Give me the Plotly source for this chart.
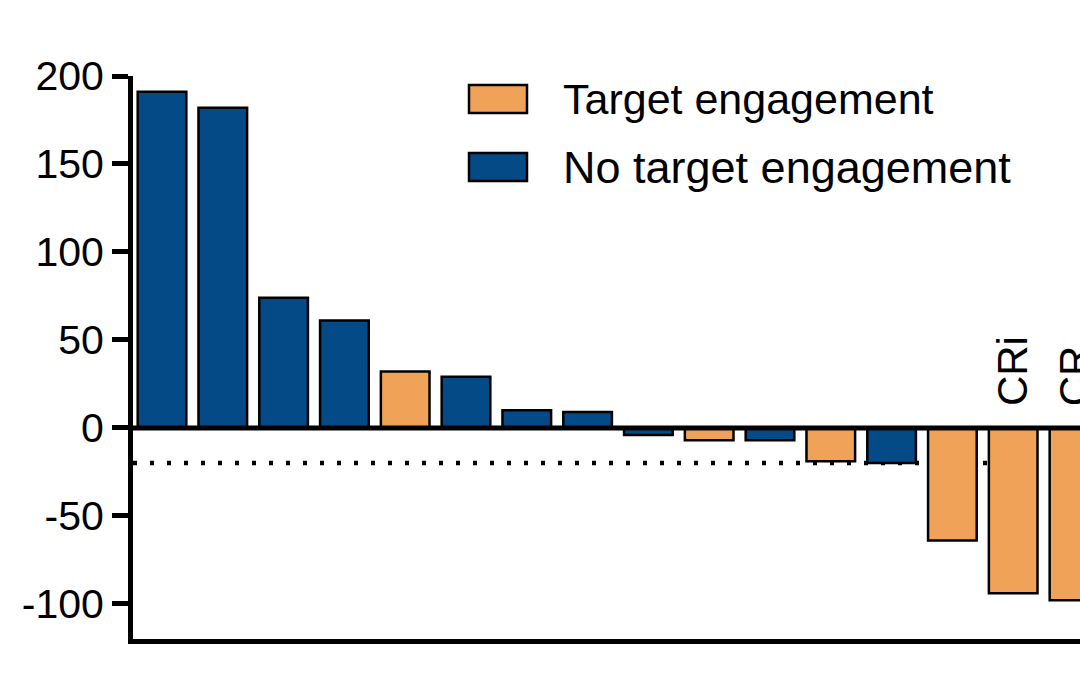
import plotly.graph_objects as go

# ---- data ----
patients = list(range(1, 17))
change_pct = [191, 182, 74, 61, 32, 29, 10, 9, -4, -7, -7, -19, -20, -64, -94, -98]
engaged = [False, False, False, False, True, False, False, False, False, True, False, True, False, True, True, True]
response_labels = {15: "CRi", 16: "CR"}
threshold = -20
y_ticks = [-100, -50, 0, 50, 100, 150, 200]
y_tick_text = ["-100", "-50", "0", "50", "100", "150", "200"]
legend_names = ["Target engagement", "No target engagement"]

ORANGE = "#F0A259"
BLUE = "#034A87"
FONT = "Liberation Sans, Arial, sans-serif"

W, H = 1080, 675
ML, MR, MT, MB = 133, 0, 76, 36

def px_x(p):
    return (p - ML) / (W - ML - MR)

def px_y(p):
    return (H - MB - p) / (H - MT - MB)

fig = go.Figure()
for flag, name, color in [(True, legend_names[0], ORANGE), (False, legend_names[1], BLUE)]:
    xs = [p for p, e in zip(patients, engaged) if e == flag]
    ys = [v for v, e in zip(change_pct, engaged) if e == flag]
    fig.add_trace(go.Bar(x=xs, y=ys, name=name, width=0.8,
                         marker=dict(color=color, line=dict(color="black", width=2.5)),
                         showlegend=False))

# threshold dotted line (behind bars)
fig.add_shape(type="line", xref="paper", yref="y", x0=0, x1=1, y0=threshold, y1=threshold,
              line=dict(color="black", width=4.5, dash="4px,13px"), layer="below")
# zero line (above bars)
fig.add_shape(type="line", xref="paper", yref="y", x0=0, x1=1, y0=0, y1=0,
              line=dict(color="black", width=5), layer="above")

for p, lab in response_labels.items():
    fig.add_annotation(x=p, y=0, xref="x", yref="y", text=lab, textangle=-90,
                       showarrow=False, yanchor="bottom", yshift=20,
                       font=dict(family=FONT, size=42, color="black"))

# legend drawn manually
for (top, bot), name, color, fs in [((85, 113), legend_names[0], ORANGE, 43),
                                    ((153, 181), legend_names[1], BLUE, 45)]:
    fig.add_shape(type="rect", xref="paper", yref="paper",
                  x0=px_x(469), x1=px_x(527), y0=px_y(bot), y1=px_y(top),
                  fillcolor=color, line=dict(color="black", width=2.5))
    fig.add_annotation(xref="paper", yref="paper", x=px_x(561), y=px_y((top + bot) / 2),
                       text=name, showarrow=False, xanchor="left", yanchor="middle",
                       font=dict(family=FONT, size=fs, color="black"))

fig.update_layout(
    width=W, height=H,
    margin=dict(l=ML, r=MR, t=MT, b=MB, pad=0),
    plot_bgcolor="white", paper_bgcolor="white",
    bargap=0.2,
    font=dict(family=FONT, size=41, color="black"),
)
fig.update_xaxes(range=[0.523, 16.099], showline=True, linewidth=5, linecolor="black",
                 showticklabels=False, ticks="", showgrid=False, zeroline=False)
fig.update_yaxes(range=[-120, 200], showline=True, linewidth=5, linecolor="black",
                 tickvals=y_ticks, ticktext=y_tick_text, ticks="outside", ticklen=16,
                 tickwidth=5, tickcolor="black",
                 showgrid=False, zeroline=False, tickfont=dict(family=FONT, size=41))

fig.write_html("out.html")
